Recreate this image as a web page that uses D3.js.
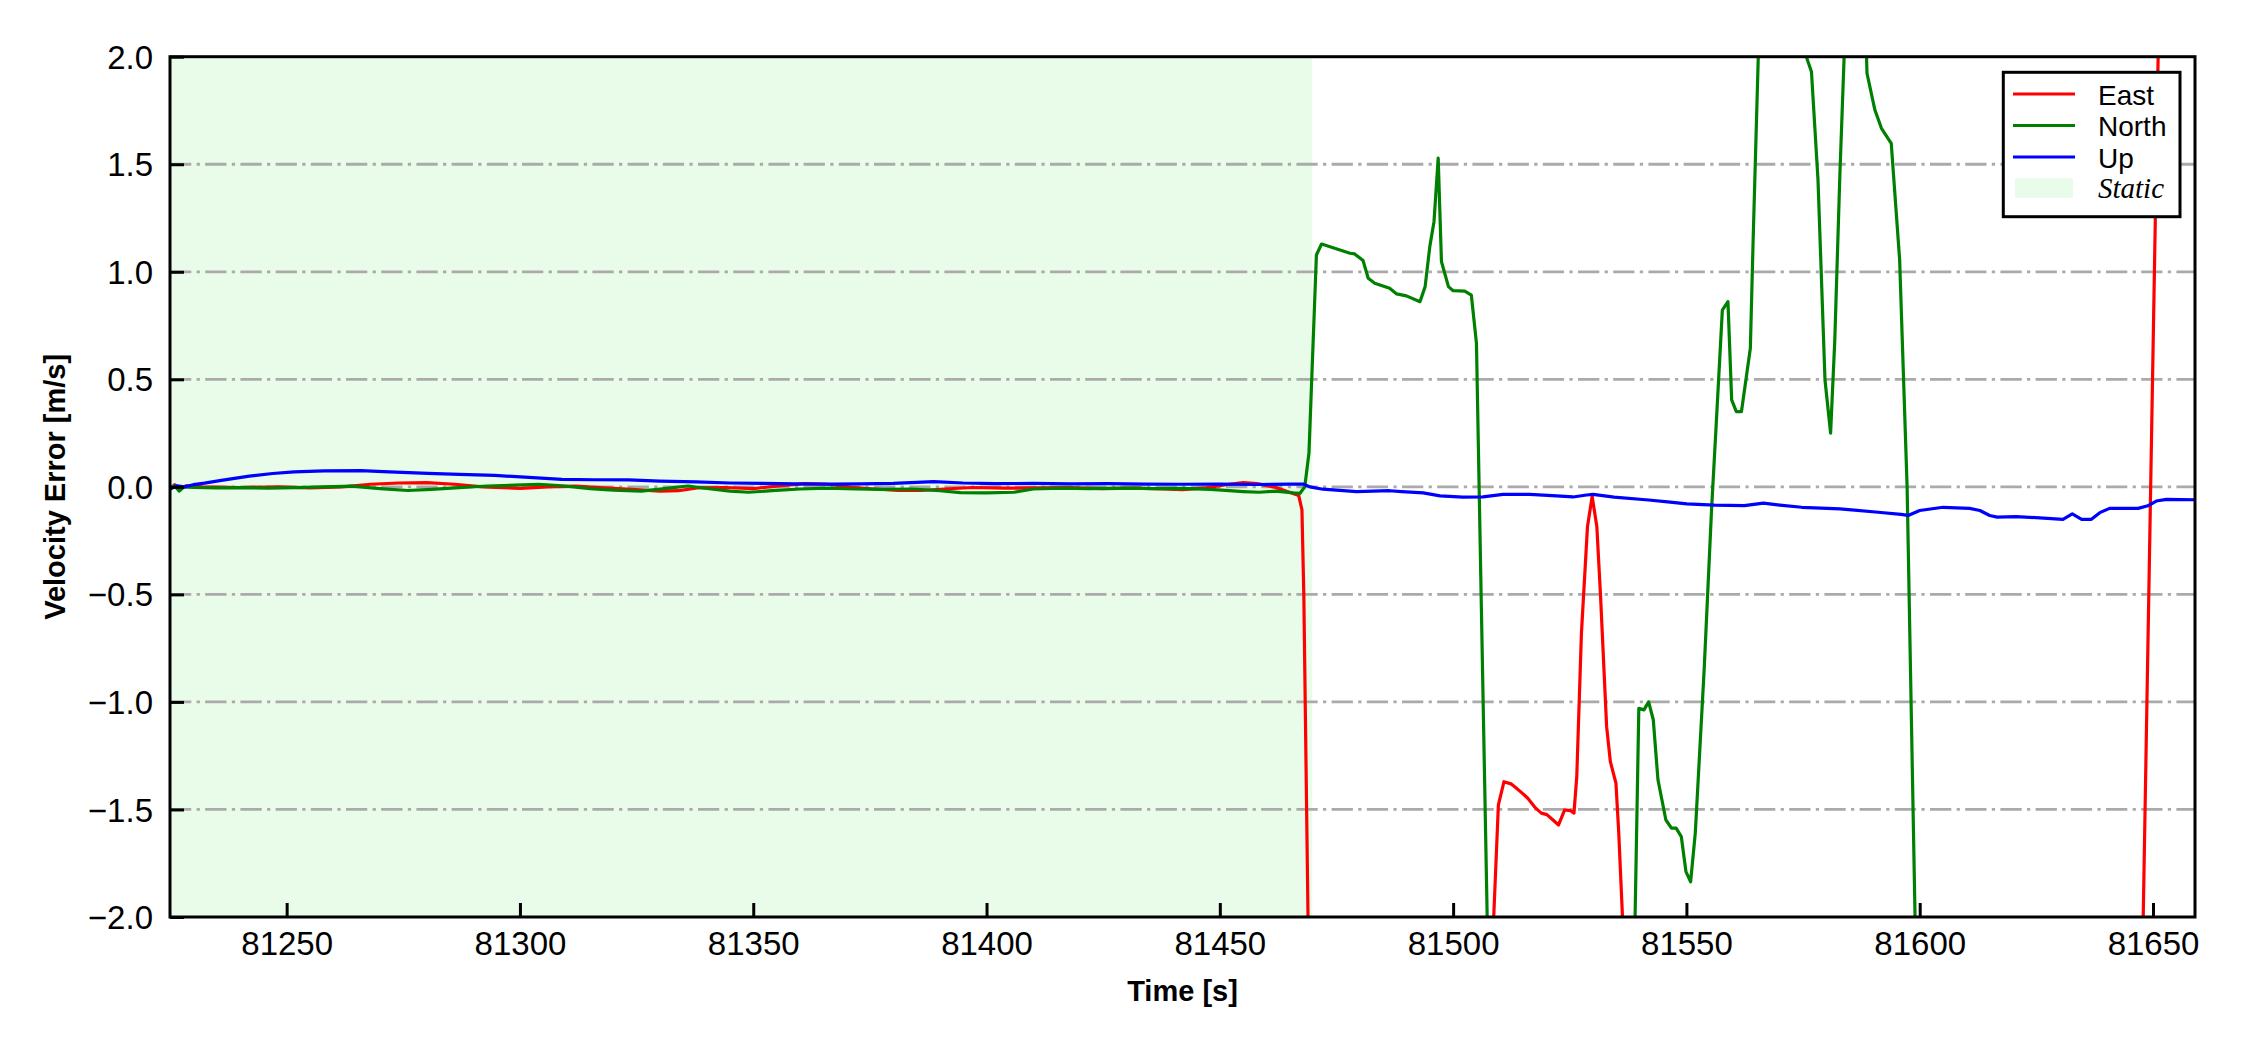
<!DOCTYPE html>
<html>
<head>
<meta charset="utf-8">
<script src="https://cdn.jsdelivr.net/npm/d3@7"></script>
<style>
  html, body { margin: 0; padding: 0; background: #ffffff; }
  svg { display: block; }
</style>
</head>
<body>
<svg id="chart" width="2250" height="1050"></svg>
<script>
// ---------------- DATA ----------------
const seriesNames = ["East", "North", "Up"];
const seriesColors = ["#ff0000", "#008000", "#0000ff"];
const staticLabel = "Static";
const staticSpan = [81225, 81469.8];

const xDomain = [81225, 81659];
const yDomain = [-2, 2];
const xTicks = [81250, 81300, 81350, 81400, 81450, 81500, 81550, 81600, 81650];
const yTicks = [-2.0, -1.5, -1.0, -0.5, 0.0, 0.5, 1.0, 1.5, 2.0];
const xLabel = "Time [s]";
const yLabel = "Velocity Error [m/s]";

// [time (s), velocity error (m/s)] ; values beyond ±2 are off-chart estimates (clipped)
const east = [[81225,-0.01],[81226,0.01],[81227,-0.01],[81228.5,0.005],[81232,0.0],[81240,-0.003],[81248,0.0],[81255,-0.005],[81262,0.0],[81268,0.012],[81274,0.018],[81280,0.02],[81286,0.012],[81292,0.0],[81300,-0.007],[81306,0.0],[81312,0.003],[81318,-0.005],[81324,-0.012],[81330,-0.02],[81334,-0.018],[81338,-0.005],[81344,-0.003],[81350,-0.008],[81356,0.005],[81361,0.015],[81366,0.012],[81371,-0.002],[81376,-0.01],[81381,-0.017],[81386,-0.017],[81391,-0.01],[81397,-0.003],[81404,-0.006],[81410,-0.005],[81418,-0.004],[81425,-0.008],[81432,-0.006],[81438,-0.01],[81442,-0.013],[81447,-0.005],[81452,0.012],[81455,0.02],[81458,0.015],[81462,-0.003],[81466.9,-0.04],[81467.6,-0.107],[81468.0,-0.5],[81468.9,-2.0],[81469.5,-3.0],[81508,-3.0],[81508.7,-2.0],[81509.7,-1.479],[81510.9,-1.371],[81512.4,-1.381],[81513.2,-1.394],[81514.8,-1.424],[81516.0,-1.448],[81517.7,-1.494],[81518.9,-1.517],[81520.1,-1.524],[81521.4,-1.549],[81522.6,-1.572],[81523.9,-1.502],[81525.1,-1.505],[81525.9,-1.517],[81526.5,-1.347],[81527.5,-0.68],[81528.8,-0.184],[81529.8,-0.045],[81530.8,-0.184],[81531.6,-0.509],[81532.9,-1.115],[81533.7,-1.278],[81534.9,-1.378],[81535.5,-1.61],[81536.3,-2.0],[81537,-3.0],[81647,-3.0],[81647.9,-2.0],[81651.1,2.0],[81652,3.0],[81659,3.0]];

const north = [[81225,-0.005],[81226,0.005],[81227,-0.02],[81228,0.0],[81230,-0.003],[81235,-0.005],[81240,-0.004],[81246,-0.006],[81252,-0.004],[81258,0.0],[81264,0.003],[81270,-0.008],[81276,-0.017],[81281,-0.012],[81287,-0.004],[81293,0.004],[81299,0.008],[81304,0.012],[81309,0.005],[81315,-0.008],[81320,-0.015],[81326,-0.02],[81331,-0.008],[81336,0.004],[81341,-0.01],[81345,-0.02],[81349,-0.025],[81354,-0.018],[81360,-0.01],[81366,-0.006],[81372,-0.01],[81378,-0.012],[81384,-0.01],[81390,-0.018],[81394.4,-0.027],[81400,-0.028],[81405.9,-0.025],[81410,-0.01],[81416,-0.006],[81422,-0.008],[81430,-0.006],[81436,-0.008],[81442,-0.007],[81448,-0.012],[81452,-0.018],[81455,-0.022],[81458.4,-0.025],[81462,-0.02],[81465.8,-0.028],[81467.2,-0.03],[81468.2,0.0],[81469.1,0.156],[81470.7,1.078],[81471.8,1.129],[81477.9,1.086],[81478.9,1.083],[81480.7,1.052],[81481.8,0.97],[81483.2,0.947],[81486.4,0.923],[81487.9,0.897],[81490,0.888],[81492.9,0.861],[81494,0.931],[81495,1.117],[81495.9,1.233],[81496.8,1.528],[81497.5,1.047],[81499,0.931],[81500,0.912],[81502.5,0.91],[81503.9,0.892],[81505,0.668],[81506,-0.5],[81507.3,-2.0],[81508,-3.0],[81538.5,-3.0],[81539.0,-2.0],[81539.8,-1.03],[81540.9,-1.037],[81541.9,-1.0],[81542.9,-1.083],[81543.9,-1.362],[81545.6,-1.549],[81546.8,-1.587],[81547.8,-1.587],[81548.9,-1.626],[81549.9,-1.789],[81550.9,-1.836],[81551.9,-1.61],[81553.8,-0.851],[81555.4,-0.1],[81556.4,0.296],[81557.7,0.822],[81558.9,0.861],[81559.7,0.404],[81560.7,0.35],[81561.8,0.35],[81563.7,0.644],[81564.3,1.148],[81565.4,2.0],[81566,3.0],[81575,3.0],[81575.7,2.0],[81576.8,1.93],[81578.2,1.427],[81579.7,0.497],[81580.9,0.25],[81581.8,0.683],[81582.9,1.458],[81583.8,2.0],[81584.3,3.0],[81588.2,3.0],[81588.6,2.0],[81588.7,1.923],[81590.4,1.752],[81591.8,1.667],[81593.9,1.597],[81595.7,1.055],[81597.3,0.0],[81599.0,-2.0],[81599.5,-3.0],[81659,-3.0]];

const up = [[81225,-0.01],[81226.5,0.005],[81228,0.0],[81230,0.01],[81232.4,0.017],[81236,0.03],[81242,0.05],[81247,0.062],[81251.6,0.07],[81258,0.074],[81265.9,0.075],[81272,0.07],[81280.3,0.063],[81287,0.058],[81294.6,0.053],[81301,0.045],[81309,0.035],[81316,0.033],[81323.3,0.032],[81330,0.027],[81337.7,0.023],[81345,0.018],[81352,0.016],[81359,0.014],[81366.3,0.013],[81373,0.014],[81380,0.016],[81388.7,0.024],[81395,0.018],[81402,0.015],[81410,0.016],[81418,0.014],[81426,0.015],[81434,0.013],[81442,0.012],[81450,0.013],[81458,0.011],[81465,0.013],[81467.9,0.013],[81469.3,0.0],[81472.1,-0.011],[81479.3,-0.022],[81486.4,-0.018],[81489,-0.022],[81493.6,-0.028],[81497.2,-0.042],[81502.1,-0.048],[81506.4,-0.047],[81510.7,-0.035],[81516.4,-0.035],[81522.2,-0.042],[81525.7,-0.047],[81528.6,-0.038],[81530,-0.035],[81534.5,-0.048],[81541.9,-0.061],[81546,-0.07],[81550.1,-0.079],[81556,-0.085],[81562.4,-0.087],[81566.5,-0.076],[81570,-0.085],[81574.7,-0.095],[81582.9,-0.102],[81591.1,-0.118],[81596,-0.128],[81597.5,-0.133],[81600,-0.11],[81605,-0.095],[81610.7,-0.1],[81612.9,-0.11],[81615,-0.133],[81616.6,-0.141],[81620.7,-0.138],[81630.7,-0.151],[81632.7,-0.126],[81634.7,-0.151],[81636.8,-0.151],[81638.6,-0.12],[81640.7,-0.1],[81646.8,-0.1],[81648.9,-0.088],[81650.7,-0.066],[81652.9,-0.058],[81659,-0.06]];

const seriesData = [east, north, up];

// ---------------- LAYOUT ----------------
const svg = d3.select("#chart");
const plot = { left: 170, right: 2195, top: 56.7, bottom: 917 };
const x = d3.scaleLinear().domain(xDomain).range([plot.left, plot.right]);
const y = d3.scaleLinear().domain(yDomain).range([plot.bottom, plot.top]);

const sansFont = "'Liberation Sans', Arial, Helvetica, sans-serif";
const serifFont = "'Liberation Serif', 'Times New Roman', Times, serif";
const staticFill = "rgb(233,252,233)";

svg.append("rect").attr("width", 2250).attr("height", 1050).attr("fill", "#ffffff");

const defs = svg.append("defs");
defs.append("clipPath").attr("id", "plotclip")
  .append("rect")
  .attr("x", plot.left).attr("y", plot.top)
  .attr("width", plot.right - plot.left).attr("height", plot.bottom - plot.top);

// static shading
svg.append("rect")
  .attr("clip-path", "url(#plotclip)")
  .attr("x", x(staticSpan[0])).attr("y", plot.top)
  .attr("width", x(staticSpan[1]) - x(staticSpan[0]))
  .attr("height", plot.bottom - plot.top)
  .attr("fill", staticFill);

// grid lines
svg.append("g").selectAll("line")
  .data(yTicks.filter(d => d > yDomain[0] && d < yDomain[1]))
  .join("line")
  .attr("x1", plot.left).attr("x2", plot.right)
  .attr("y1", d => y(d)).attr("y2", d => y(d))
  .attr("stroke", "#aaaaaa")
  .attr("stroke-width", 2.8)
  .attr("stroke-dasharray", "21.3,5.3,3.3,5.3");

// data lines
const line = d3.line().x(d => x(d[0])).y(d => y(d[1]));
const linesG = svg.append("g").attr("clip-path", "url(#plotclip)");
seriesData.forEach((data, i) => {
  linesG.append("path")
    .datum(data)
    .attr("d", line)
    .attr("fill", "none")
    .attr("stroke", seriesColors[i])
    .attr("stroke-width", 3.2)
    .attr("stroke-linejoin", "round")
    .attr("stroke-linecap", "butt");
});

// axes (ticks inward)
const fmtY = d3.format(".1f");
const xAxis = d3.axisBottom(x).tickValues(xTicks).tickSize(-14).tickPadding(18).tickFormat(d3.format("d"));
const yAxis = d3.axisLeft(y).tickValues(yTicks).tickSize(-14).tickPadding(18).tickFormat(fmtY);

const gx = svg.append("g").attr("transform", `translate(0,${plot.bottom})`).call(xAxis);
const gy = svg.append("g").attr("transform", `translate(${plot.left},0)`).call(yAxis);
[gx, gy].forEach(g => {
  g.select(".domain").remove();
  g.selectAll(".tick line").attr("stroke", "#000").attr("stroke-width", 3);
  g.selectAll(".tick text")
    .attr("font-family", sansFont)
    .attr("font-size", 33)
    .attr("fill", "#000");
});
gx.selectAll(".tick text").attr("dy", null).attr("y", 38);
gy.selectAll(".tick text").attr("dy", "0.35em").attr("x", -17);

// frame
svg.append("rect")
  .attr("x", plot.left).attr("y", plot.top)
  .attr("width", plot.right - plot.left).attr("height", plot.bottom - plot.top)
  .attr("fill", "none").attr("stroke", "#000").attr("stroke-width", 3);

// axis labels
svg.append("text")
  .attr("x", (plot.left + plot.right) / 2).attr("y", 1001)
  .attr("text-anchor", "middle")
  .attr("font-family", sansFont).attr("font-weight", "bold").attr("font-size", 29)
  .text(xLabel);

svg.append("text")
  .attr("transform", `translate(65,${(plot.top + plot.bottom) / 2}) rotate(-90)`)
  .attr("text-anchor", "middle")
  .attr("font-family", sansFont).attr("font-weight", "bold").attr("font-size", 29)
  .text(yLabel);

// legend
const leg = svg.append("g");
leg.append("rect")
  .attr("x", 2003.3).attr("y", 72.3).attr("width", 176.7).attr("height", 144.4)
  .attr("fill", "#ffffff").attr("stroke", "#000").attr("stroke-width", 3);
const rowY = [94, 125.5, 157, 188];
seriesNames.forEach((name, i) => {
  leg.append("line")
    .attr("x1", 2013).attr("x2", 2075)
    .attr("y1", rowY[i]).attr("y2", rowY[i])
    .attr("stroke", seriesColors[i]).attr("stroke-width", 3.2);
  leg.append("text")
    .attr("x", 2098).attr("y", rowY[i] + 10.5)
    .attr("font-family", sansFont).attr("font-size", 28)
    .text(name);
});
leg.append("rect")
  .attr("x", 2015).attr("y", 178.3).attr("width", 58).attr("height", 19.5)
  .attr("fill", staticFill);
leg.append("text")
  .attr("x", 2098).attr("y", rowY[3] + 9.5)
  .attr("font-family", serifFont).attr("font-style", "italic").attr("font-size", 29)
  .text(staticLabel);
</script>
</body>
</html>
